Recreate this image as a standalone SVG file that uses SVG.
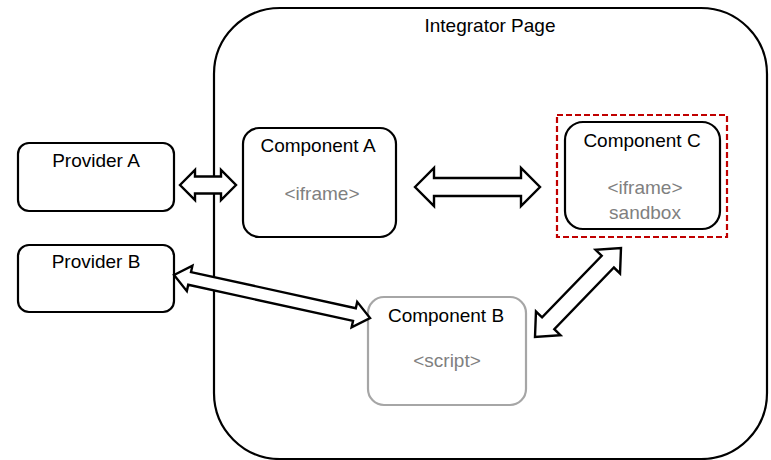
<svg xmlns="http://www.w3.org/2000/svg" width="771" height="460" viewBox="0 0 771 460">
  <style>
    .box { fill: #ffffff; stroke: #000000; stroke-width: 2.2; }
    .faint { fill: #ffffff; stroke: #a6a6a6; stroke-width: 2.2; }
    .sandbox { fill: none; stroke: #c00000; stroke-width: 2.2; stroke-dasharray: 6 3; }
    .arrow { fill: #ffffff; stroke: #000000; stroke-width: 2.4; stroke-linejoin: miter; }
    text { font-family: "Liberation Sans", Arial, sans-serif; font-size: 19px; text-anchor: middle; }
    .title { fill: #000000; }
    .tag { fill: #808080; }
  </style>
  <rect width="771" height="460" fill="#ffffff"/>

  <!-- page container -->
  <g id="integrator-page">
    <rect class="box" x="214" y="8" width="553" height="451" rx="66" ry="66"/>
    <text class="title" x="490" y="32">Integrator Page</text>
  </g>

  <g id="provider-a">
    <rect class="box" x="18" y="143" width="156" height="68" rx="11" ry="11"/>
    <text class="title" x="96" y="167">Provider A</text>
  </g>

  <g id="provider-b">
    <rect class="box" x="18" y="245" width="156" height="67" rx="11" ry="11"/>
    <text class="title" x="96" y="268">Provider B</text>
  </g>

  <g id="component-a">
    <rect class="box" x="243" y="128" width="153" height="109" rx="16" ry="16"/>
    <text class="title" x="318" y="152">Component A</text>
    <text class="tag" x="322" y="200">&lt;iframe&gt;</text>
  </g>

  <g id="component-c">
    <rect class="sandbox" x="557" y="115" width="170" height="122"/>
    <rect class="box" x="565" y="122" width="155" height="107" rx="18" ry="18"/>
    <text class="title" x="642" y="147">Component C</text>
    <text class="tag" x="645" y="194">&lt;iframe&gt;</text>
    <text class="tag" x="645" y="219">sandbox</text>
  </g>

  <g id="component-b">
    <rect class="faint" x="368" y="297" width="158" height="108" rx="16" ry="16"/>
    <text class="title" x="446" y="322">Component B</text>
    <text class="tag" x="447" y="367">&lt;script&gt;</text>
  </g>

  <!-- double-headed block arrows -->
  <g id="connectors">
    <!-- Provider A <-> Component A -->
    <path class="arrow" transform="translate(180,185)"
          d="M0,0 L15,-15 L15,-8.5 L41,-8.5 L41,-15 L56,0 L41,15 L41,8.5 L15,8.5 L15,15 Z"/>
    <!-- Component A <-> Component C -->
    <path class="arrow" transform="translate(415,187)"
          d="M0,0 L19,-19 L19,-9 L106,-9 L106,-19 L125,0 L106,19 L106,9 L19,9 L19,19 Z"/>
    <!-- Provider B <-> Component B -->
    <path class="arrow" transform="translate(174,275) rotate(12.37)"
          d="M0,0 L16,-13 L16,-6.5 L184.7,-6.5 L184.7,-13 L200.7,0 L184.7,13 L184.7,6.5 L16,6.5 L16,13 Z"/>
    <!-- Component B <-> Component C -->
    <path class="arrow" transform="translate(535,337) rotate(-46)"
          d="M0,0 L19,-17 L19,-8.5 L104.8,-8.5 L104.8,-17 L123.8,0 L104.8,17 L104.8,8.5 L19,8.5 L19,17 Z"/>
  </g>
</svg>
